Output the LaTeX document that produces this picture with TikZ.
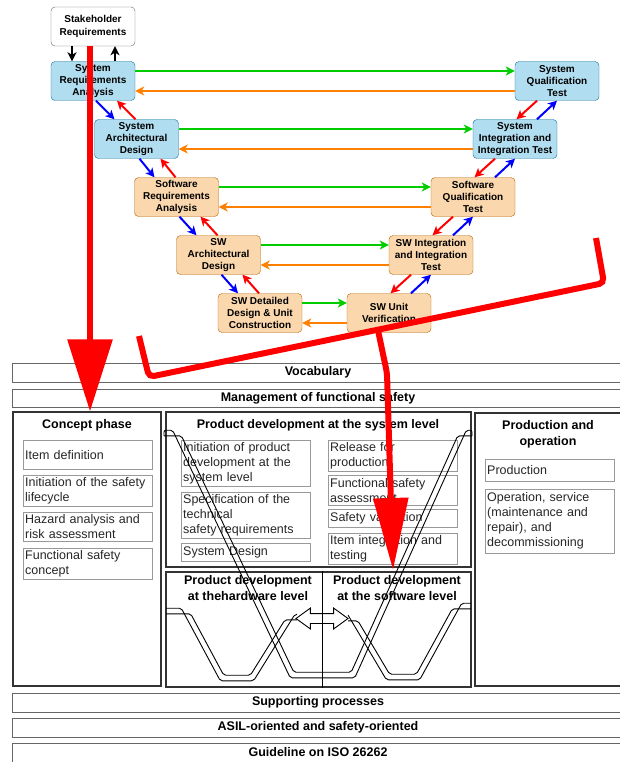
\documentclass[tikz,border=0pt]{standalone}
\usepackage{fontspec}
\setmainfont{Liberation Sans}
\usetikzlibrary{arrows.meta, calc, shapes.arrows}
\definecolor{sysfill}{HTML}{B1DDF0}
\definecolor{sysline}{HTML}{10739E}
\definecolor{swfill}{HTML}{FAD7AC}
\definecolor{swline}{HTML}{B46504}
\definecolor{fwdgreen}{HTML}{00CC00}
\definecolor{backorange}{HTML}{FF8000}
\begin{document}
\begin{tikzpicture}[x=1pt, y=-1pt,
  vbox/.style={draw, rounded corners=4pt, minimum width=84pt, minimum height=39pt, inner sep=0pt, align=center, font=\bfseries\fontsize{10}{12.3}\selectfont},
  sysbox/.style={vbox, draw=sysline, fill=sysfill},
  swbox/.style={vbox, draw=swline, fill=swfill},
  flow/.style={line width=2pt, -{Stealth[length=9pt, width=9pt, inset=2.5pt]}},
  fwd/.style={flow, draw=fwdgreen},
  back/.style={flow, draw=backorange},
  down/.style={flow, draw=blue},
  up/.style={flow, draw=red},
  band/.style={draw=black!60, minimum width=612pt, minimum height=19pt, inner sep=0pt, font=\bfseries\fontsize{12.5}{15}\selectfont},
  phase/.style={draw=black!80, line width=1.2pt, inner sep=0pt},
  title/.style={align=center, font=\bfseries\fontsize{12.5}{15.5}\selectfont},
  item/.style={draw=black!40, anchor=north west, minimum width=129pt, text width=125pt, inner sep=2pt, align=left, text=black!85, font=\fontsize{12.5}{15}\selectfont},
  pipe/.style={draw=black, line width=0.9pt, rounded corners=2pt},
  bigred/.style={draw=red, line width=6pt, rounded corners=5pt},
]
\useasboundingbox (0,0) rectangle (619,762);

% ISO 26262 frame
\node[band] (vocab) at (318,372.5) {Vocabulary};
\node[band, minimum height=18pt] (mgmt) at (318,398) {Management of functional safety};
\node[band] (supp) at (318,702.5) {Supporting processes};
\node[band] (asil) at (318,727.5) {ASIL-oriented and safety-oriented};
\node[band] (guide) at (318,752.5) {Guideline on ISO 26262};

\node[phase, minimum width=148pt, minimum height=274pt] (concept) at (87,549) {};
\node[phase, minimum width=305pt, minimum height=155pt] (sysdev) at (318.5,489.5) {};
\node[phase, minimum width=305pt, minimum height=115pt] (hwsw) at (318.5,629.5) {};
\node[phase, minimum width=150pt, minimum height=273pt] (prodop) at (550,549.5) {};

\node[title] (concept title) at (87,425) {Concept phase};
\node[title] (sysdev title) at (318,425) {Product development at the system level};
\node[title] (hw title) at (248,588) {Product development\\at thehardware level};
\node[title] (sw title) at (397,588) {Product development\\at the software level};
\node[title] (prodop title) at (548,434.5) {Production and\\operation};

\node[item, minimum height=29pt] (itemdef) at (23,440) {Item definition};
\node[item, minimum height=30pt] (initsafe) at (23,475) {Initiation of the safety\\lifecycle};
\node[item, minimum height=29pt] (hara) at (23,512) {Hazard analysis and\\risk assessment};
\node[item, minimum height=30pt] (fsc) at (23,548) {Functional safety\\concept};

\node[item, minimum height=45pt] (initprod) at (181,440) {Initiation of product\\development at the\\system level};
\node[item, minimum height=45pt] (tsr) at (181,492) {Specification of the\\technical\\safety requirements};
\node[item, minimum height=18pt] (sysdesign) at (181,543) {System Design};
\node[item, minimum height=30pt] (release) at (328,440) {Release for\\production};
\node[item, minimum height=30pt] (fsa) at (328,475) {Functional safety\\assessment};
\node[item, minimum height=18pt] (valid) at (328,509) {Safety validation};
\node[item, minimum height=30pt] (integ) at (328,533) {Item integration and\\testing};

\node[item, minimum height=22pt] (production) at (485,459) {Production};
\node[item, minimum height=64pt] (operation) at (485,489) {Operation, service\\(maintenance and\\repair), and\\decommissioning};

\draw ([xshift=3.5pt]hwsw.north) -- ([xshift=3.5pt]hwsw.south);

% V shapes (outer and inner edge of each band)
\draw[pipe] (164,435.8) -- (164,430.2) -- (172.6,430.2) -- (290.2,677.8) -- (354.8,677.8) -- (466.3,430.2) -- (472,430.2) -- (472,435.8);
\draw[pipe] (164,435.8) -- (181.4,435.8) -- (293.8,672.2) -- (351.2,672.2) -- (457.7,435.8) -- (472,435.8);
\draw[pipe] (166,608.2) -- (181.3,608.2) -- (220.3,680.8) -- (253.6,680.8) -- (295,614.2) -- (297,614.2);
\draw[pipe] (166,613.8) -- (190.7,613.8) -- (223.7,675.2) -- (250.4,675.2) -- (285,619.8) -- (297,619.8);
\draw[pipe] (348.1,615.2) -- (386.4,679.8) -- (419.7,679.8) -- (461.7,603.2) -- (471,603.2);
\draw[pipe] (348,620.8) -- (357.9,620.8) -- (389.6,674.2) -- (416.4,674.2) -- (452.3,608.8) -- (471,608.8);
\node[double arrow, draw, line width=0.9pt, double arrow head extend=5.5pt, double arrow tip angle=72,
      minimum height=52pt, minimum width=20pt, inner sep=4.5pt] (xfer) at (322,618.5) {};

% V-model
\node[vbox, draw=black!60, fill=white] (stake) at (93,26.5) {Stakeholder\\Requirements};
\node[sysbox] (sra) at (93,81) {System\\Requirements\\Analysis};
\node[sysbox] (sad) at (136.5,139) {System\\Architectural\\Design};
\node[swbox] (swra) at (176.5,197) {Software\\Requirements\\Analysis};
\node[swbox] (swad) at (218.5,255) {SW\\Architectural\\Design};
\node[swbox] (swdd) at (260,313) {SW Detailed\\Design \& Unit\\Construction};
\node[swbox] (swuv) at (389,313) {SW Unit\\Verification};
\node[swbox] (swit) at (431,255) {SW Integration\\and Integration\\Test};
\node[swbox] (swqt) at (473,197) {Software\\Qualification\\Test};
\node[sysbox] (sit) at (515,139) {System\\Integration and\\Integration Test};
\node[sysbox] (sqt) at (557,81) {System\\Qualification\\Test};

\draw[flow, line width=1.4pt] ([xshift=-21pt]stake.south) -- ([xshift=-21pt]sra.north);
\draw[flow, line width=1.4pt] ([xshift=22pt]sra.north) -- ([xshift=22pt]stake.south);

\foreach \l/\r in {sra/sqt, sad/sit, swra/swqt, swad/swit, swdd/swuv}{
  \draw[fwd] ([yshift=10pt]\l.east) -- ([yshift=10pt]\r.west);
  \draw[back] ([yshift=-10pt]\r.west) -- ([yshift=-10pt]\l.east);
}
\foreach \a/\b in {sra/sad, sad/swra, swra/swad, swad/swdd}{
  \draw[down] ([xshift=3pt]\a.south) -- ([xshift=-22pt]\b.north);
  \draw[up] ([xshift=-1pt]\b.north) -- ([xshift=24pt]\a.south);
}
\foreach \a/\b in {sqt/sit, sit/swqt, swqt/swit, swit/swuv}{
  \draw[up] ([xshift=-20pt]\a.south) -- ([xshift=1.5pt]\b.north);
  \draw[down] ([xshift=22pt]\b.north) -- ([xshift=0pt]\a.south);
}

% red overlays
\draw[bigred, -{Triangle[length=72pt, width=44pt]}] ([xshift=-3pt]stake.south) -- ([xshift=-3pt]stake.south |- concept.north);
\coordinate (brk1) at (139,336);
\coordinate (brk2) at (149,377);
\coordinate (brk3) at (604,283);
\coordinate (brk4) at (596,238);
\draw[bigred] (brk1) -- (brk2) -- (brk3) -- (brk4);
\coordinate (swstart) at ($(brk2)!0.503!(brk3)$);
\coordinate (swbend) at (387,373);
\coordinate (swtip) at (393,570);
\draw[bigred, -{Triangle[length=72pt, width=34pt]}] (swstart) -- (swbend) -- (swtip);
\end{tikzpicture}
\end{document}
